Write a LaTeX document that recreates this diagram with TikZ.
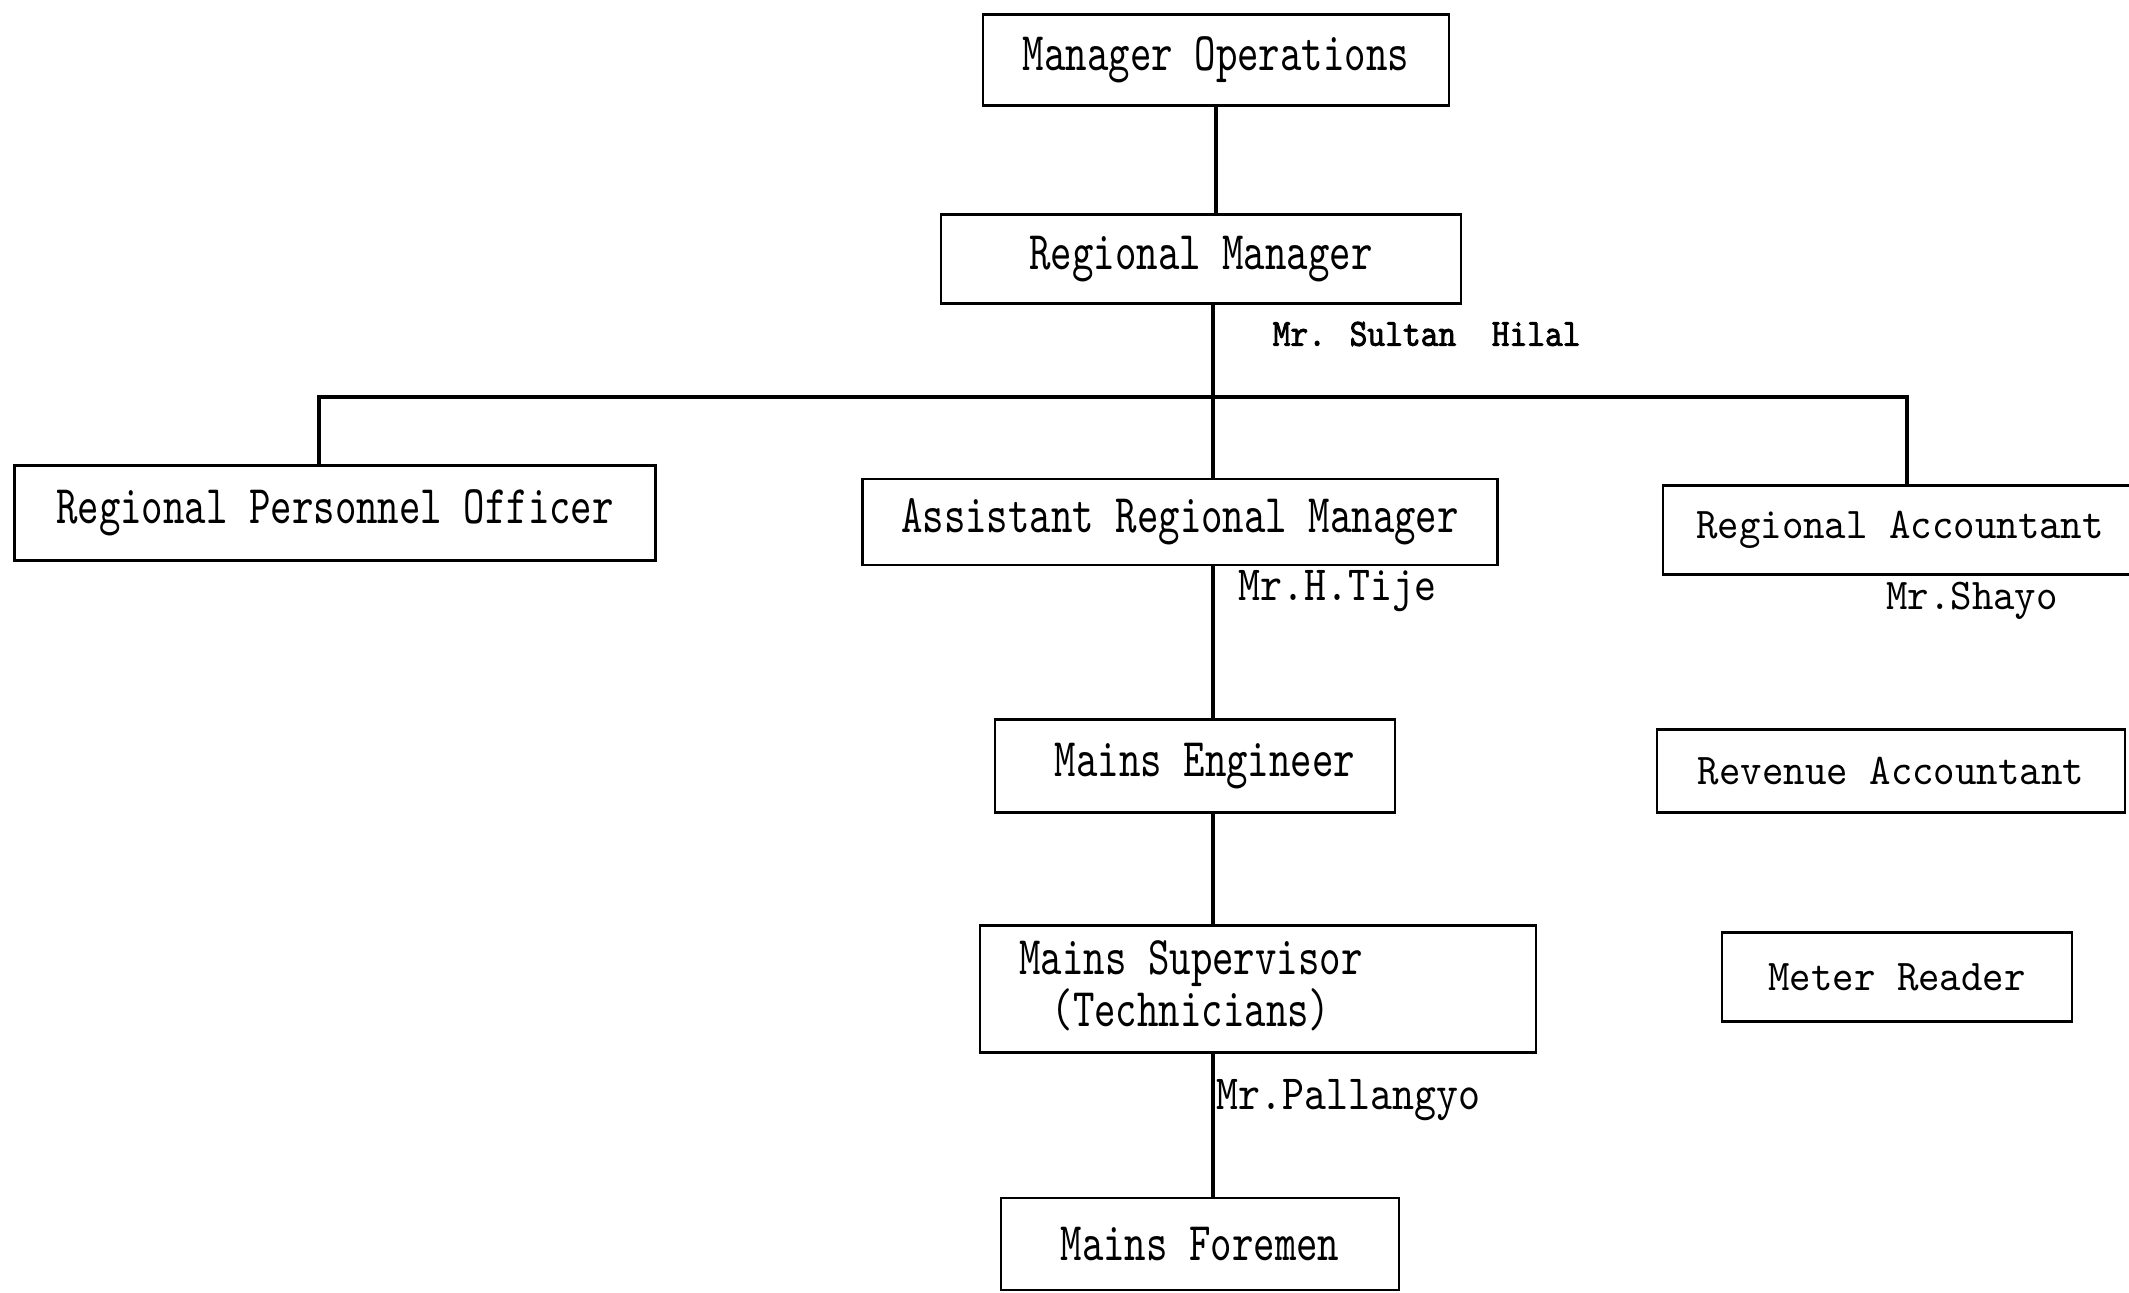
\documentclass[tikz,border=0pt]{standalone}
\usepackage{fontspec}
\usepackage{tikz}
\usetikzlibrary{positioning, calc}
\newfontfamily\chartfont{lmmono10-regular.otf}[FakeStretch=0.75]
\newfontfamily\sidefont{lmmono10-regular.otf}[FakeStretch=0.93]
\newfontfamily\whofont{lmmono10-regular.otf}[FakeStretch=0.85]
\newfontfamily\namefont{lmmono10-regular.otf}[FakeStretch=0.875,FakeBold=2]
\tikzset{
  post/.style={draw, rectangle, line width=0.8pt, inner sep=0pt, font={\chartfont\fontsize{15.5}{13}\selectfont}},
  side/.style={post, font={\sidefont\fontsize{12.5}{15}\selectfont}},
  who/.style={inner sep=0pt, font={\whofont\fontsize{14}{16}\selectfont}},
  boss/.style={inner sep=0pt, font={\namefont\fontsize{11}{13}\selectfont}},
  wire/.style={line width=0.9pt}
}

\begin{document}
\begin{tikzpicture}[x=0.1mm, y=-0.1mm]
\useasboundingbox (0,0) rectangle (2129,1293);

% top of the chart
\node[post, minimum width=46.6mm, minimum height=9.1mm] (mo) at (1216,60) {Manager Operations};
\node[post, minimum width=52mm, minimum height=8.9mm] (rm) at (1201,259) {Regional Manager};
\node[boss, anchor=west] (sultan) at (1272,334) {Mr. Sultan~~Hilal};

% second level
\node[post, minimum width=64.1mm, minimum height=9.5mm] (rpo) at (335,513) {Regional Personnel Officer};
\node[post, minimum width=63.5mm, minimum height=8.6mm] (arm) at (1180,522) {Assistant Regional Manager};
\node[side, minimum width=47.4mm, minimum height=8.9mm] (ra) at (1900,530) {Regional Accountant};
\node[who, anchor=west] (tije) at (1238,591) {Mr.H.Tije};
\node[side, draw=none, inner sep=0pt] (shayo) at (1972,601) {Mr.Shayo};

% mains column
\node[post, minimum width=40mm, minimum height=9.3mm] (me) at (1195,766) {\hspace*{2mm}Mains Engineer};
\node[post, minimum width=55.6mm, minimum height=12.7mm] (ms) at (1258,989) {};
\node[post, draw=none, align=center] (mstext) at (1191,986) {Mains Supervisor\\[-0.5pt](Technicians)};
\node[who, anchor=west] (pallangyo) at (1216,1100) {Mr.Pallangyo};
\node[post, minimum width=39.8mm, minimum height=9.2mm] (mf) at (1200,1244) {Mains Foremen};

% accounts column
\node[side, minimum width=46.8mm, minimum height=8.3mm] (rev) at (1891,771) {Revenue Accountant};
\node[side, minimum width=35mm, minimum height=8.9mm] (meter) at (1897,977) {Meter Reader};

% connectors
\coordinate (spine) at (1213,0);
\coordinate (lbus) at (319,397);
\coordinate (rbus) at (1907,397);
\draw[wire] (mo.south) -- (mo.south |- rm.north);
\draw[wire] (spine |- rm.south) -- (spine |- arm.north);
\draw[wire] (rpo.north -| lbus) -- (lbus) -- (rbus) -- (rbus |- ra.north);
\draw[wire] (spine |- arm.south) -- (spine |- me.north);
\draw[wire] (spine |- me.south) -- (spine |- ms.north);
\draw[wire] (spine |- ms.south) -- (spine |- mf.north);
\end{tikzpicture}
\end{document}
